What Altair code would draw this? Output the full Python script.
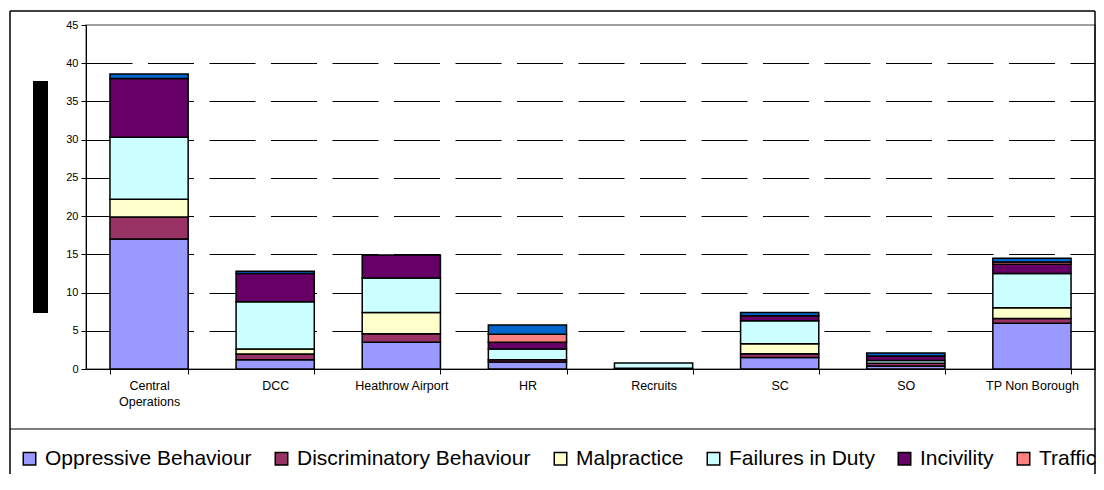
import altair as alt
import pandas as pd

categories = ["Central Operations", "DCC", "Heathrow Airport", "HR",
              "Recruits", "SC", "SO", "TP Non Borough"]
series = ["Oppressive Behaviour", "Discriminatory Behaviour", "Malpractice",
          "Failures in Duty", "Incivility", "Traffic Irregularity", "Other"]
colors = ["#9999FF", "#993366", "#FFFFCC", "#CCFFFF", "#660066", "#FF8080", "#0066CC"]

oppressive     = [17.0, 1.2, 3.5, 0.9, 0.1, 1.5, 0.4, 6.0]
discriminatory = [2.9, 0.75, 1.1, 0.3, 0.0, 0.5, 0.35, 0.6]
malpractice    = [2.3, 0.65, 2.8, 0.0, 0.0, 1.3, 0.0, 1.4]
failures       = [8.1, 6.2, 4.5, 1.4, 0.7, 3.0, 0.35, 4.5]
incivility     = [7.7, 3.7, 3.0, 0.9, 0.0, 0.65, 0.6, 1.2]
traffic        = [0.0, 0.0, 0.0, 1.05, 0.0, 0.0, 0.0, 0.3]
other          = [0.6, 0.3, 0.0, 1.2, 0.0, 0.45, 0.4, 0.5]

values = [oppressive, discriminatory, malpractice, failures, incivility, traffic, other]

rows = []
for si, (name, vals) in enumerate(zip(series, values)):
    for cat, v in zip(categories, vals):
        if v > 0:
            rows.append({"category": cat, "series": name, "value": v, "idx": si})
df = pd.DataFrame(rows)

bars = alt.Chart(df).mark_bar(stroke="black", strokeWidth=1.5).encode(
    x=alt.X("category:N", sort=categories,
            scale=alt.Scale(paddingInner=0.38, paddingOuter=0.19),
            axis=alt.Axis(title=None, labelAngle=0,
                          labelExpr="datum.label == 'Central Operations' ? ['Central', 'Operations'] : datum.label",
                          labelFont="Liberation Sans", labelFontSize=12.5, labelColor="black",
                          labelLineHeight=16, labelPadding=5, tickSize=5, tickColor="black",
                          tickBand="extent", domainColor="black", grid=False)),
    y=alt.Y("value:Q", stack="zero", scale=alt.Scale(domain=[0, 45], nice=False),
            axis=alt.Axis(values=list(range(0, 46, 5)), title=None,
                          labelFont="Liberation Sans", labelFontSize=11, labelColor="black",
                          labelPadding=3, tickSize=5, tickColor="black", domainColor="black",
                          grid=True, gridColor="black", gridWidth=1, gridDash=[46, 15.5],
                          gridOpacity=alt.condition("datum.value == 45 || datum.value == 0",
                                                    alt.value(0), alt.value(1)))),
    color=alt.Color("series:N", sort=series,
                    scale=alt.Scale(domain=series, range=colors),
                    legend=alt.Legend(orient="none", legendX=-67, legendY=423,
                                      direction="horizontal", title=None,
                                      symbolType="square", symbolSize=156,
                                      symbolStrokeColor="black", symbolStrokeWidth=1.5,
                                      symbolOpacity=1, labelFont="Liberation Sans",
                                      labelFontSize=21, labelColor="black", labelOffset=5,
                                      columnPadding=19, labelLimit=600, padding=0)),
    order=alt.Order("idx:Q", sort="ascending"),
)

one = pd.DataFrame({"a": [0]})
# redacted (blacked-out) y-axis title block
redacted = alt.Chart(one).mark_rect(color="black").encode(
    x=alt.value(-53), x2=alt.value(-38), y=alt.value(56), y2=alt.value(288))
frame_left = alt.Chart(one).mark_rule(color="black", strokeWidth=1.5).encode(
    x=alt.value(-76), y=alt.value(-14), y2=alt.value(449))
frame_top = alt.Chart(one).mark_rule(color="black", strokeWidth=1.5).encode(
    x=alt.value(-76), x2=alt.value(1009), y=alt.value(-14))
frame_right = alt.Chart(one).mark_rule(color="black", strokeWidth=1.5).encode(
    x=alt.value(1009), y=alt.value(-14), y2=alt.value(449))
legend_top = alt.Chart(one).mark_rule(color="black", strokeWidth=1.2).encode(
    x=alt.value(-76), x2=alt.value(1012), y=alt.value(404))

chart = alt.layer(bars, redacted, frame_left, frame_top, frame_right, legend_top).properties(
    width=1009, height=344,
    autosize=alt.AutoSizeParams(type="none"),
    padding={"left": 78, "top": 17, "right": 1, "bottom": 105},
    background="white",
).configure_view(stroke="#808080", strokeWidth=1.5)

chart.save("out.html", embed_options={"renderer": "svg", "actions": False})
